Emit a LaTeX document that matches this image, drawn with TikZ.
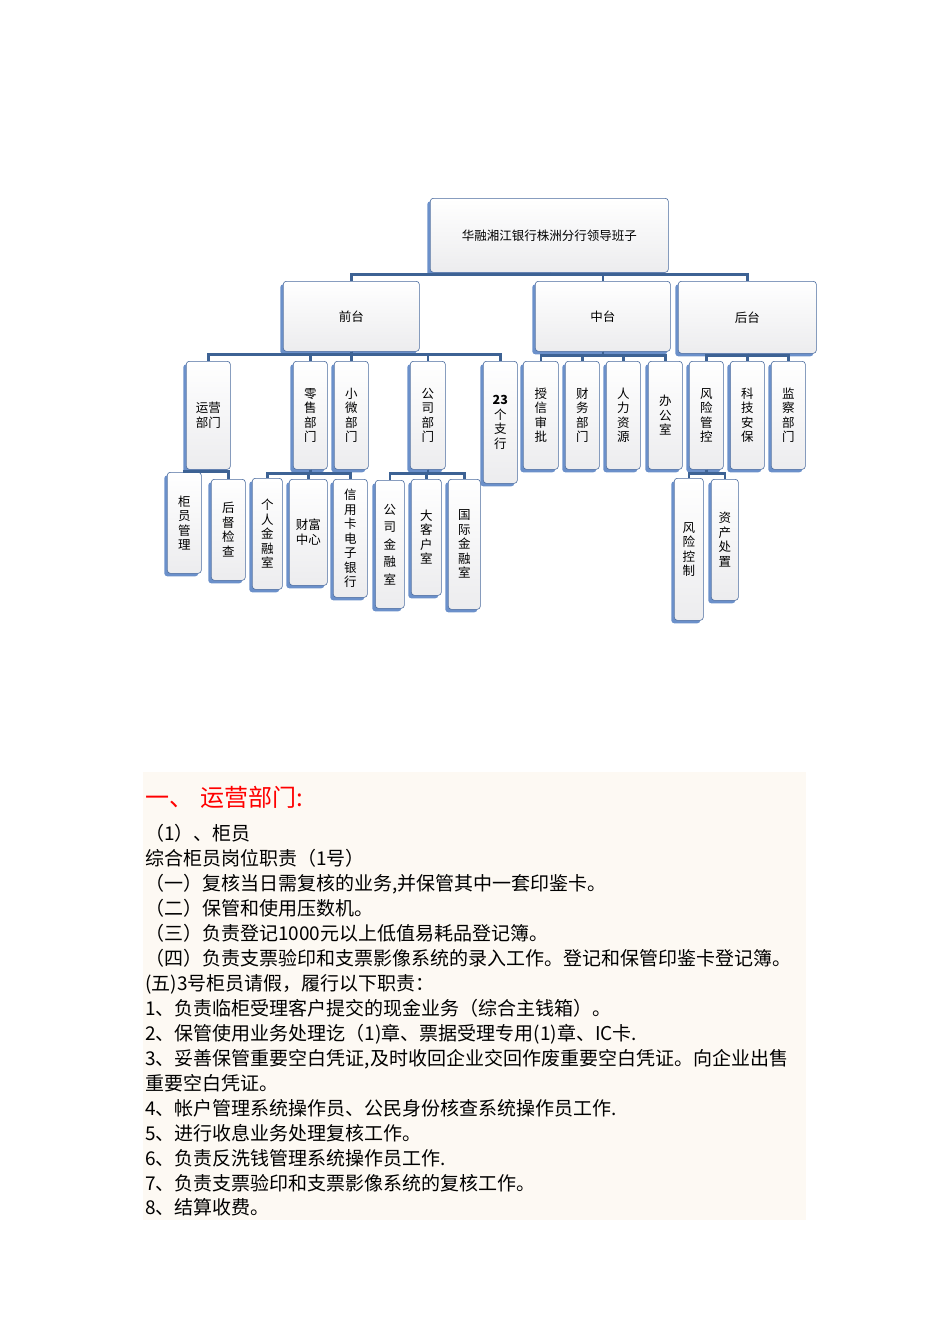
\documentclass[tikz,border=0pt]{standalone}
\usepackage{fontspec}
\setmainfont{Liberation Serif}
\newfontfamily\cjk{Noto Sans CJK SC}
\usetikzlibrary{shadows,calc}
\definecolor{boxblue}{HTML}{5B84C4}
\definecolor{connblue}{HTML}{3D6294}
\definecolor{paper}{HTML}{FDF9F3}
\tikzset{
  box/.style={draw=boxblue!80!black, line width=0.6pt, rounded corners=3pt, top color=white, bottom color=blue!6!gray!14,
    drop shadow={shadow xshift=-3pt, shadow yshift=-3pt, fill=boxblue, opacity=0.9},
    anchor=north west, inner sep=0pt, align=center, font=\cjk\fontsize{12.5}{14.5}\selectfont},
  conn/.style={draw=connblue, line width=2.4pt},
  bodyline/.style={anchor=base west, inner sep=0pt, font=\cjk\fontsize{19}{20}\selectfont}
}
\newcommand{\bx}[6]{\node[box, minimum width=#4pt-#2pt, minimum height=#3pt-#5pt] (#1) at (#2pt,#3pt) {#6};}
\begin{document}
\begin{tikzpicture}[x=1pt,y=1pt]
\useasboundingbox (0,0) rectangle (950,-1344);
% boxes
\bx{top}{430}{-198}{668}{-272}{华融湘江银行株洲分行领导班子}
\bx{qian}{283}{-281}{419}{-351}{前台}
\bx{zhong}{535}{-281}{670}{-351}{中台}
\bx{hou}{678}{-281}{816}{-353}{后台}
\bx{yy}{186}{-361}{230}{-469}{运营\\部门}
\bx{ls}{293}{-361}{327}{-469}{零\\售\\部\\门}
\bx{xw}{334}{-361}{368}{-469}{小\\微\\部\\门}
\bx{gs}{410}{-361}{445}{-469}{公\\司\\部\\门}
\bx{zh}{483}{-361}{517}{-483}{\textbf{23}\\个\\支\\行}
\bx{sx}{523}{-361}{558}{-469}{授\\信\\审\\批}
\bx{cw}{565}{-361}{599}{-469}{财\\务\\部\\门}
\bx{rl}{606}{-361}{640}{-469}{人\\力\\资\\源}
\bx{bg}{648}{-361}{682}{-469}{办\\公\\室}
\bx{fxg}{689}{-361}{723}{-469}{风\\险\\管\\控}
\bx{kj}{730}{-361}{764}{-469}{科\\技\\安\\保}
\bx{jc}{771}{-361}{805}{-469}{监\\察\\部\\门}
\bx{gy}{167}{-472}{201}{-573}{柜\\员\\管\\理}
\bx{hd}{211}{-479}{245}{-580}{后\\督\\检\\查}
\bx{gr}{252}{-478}{282}{-589}{个\\人\\金\\融\\室}
\bx{cf}{289}{-479}{327}{-585}{财富\\中心}
\bx{xyk}{333}{-479}{367}{-597}{信\\用\\卡\\电\\子\\银\\行}
\bx{gsj}{375}{-480}{404}{-608}{公\\[3pt]司\\[3pt]金\\[3pt]融\\[3pt]室}
\bx{dk}{411}{-479}{441}{-595}{大\\客\\户\\室}
\bx{gj}{448}{-479}{480}{-609}{国\\际\\金\\融\\室}
\bx{fxk}{674}{-478}{703}{-620}{风\\险\\控\\制}
\bx{zc}{711}{-479}{738}{-600}{资\\产\\处\\置}
% connectors
\foreach \c in {qian,zhong,hou}{\draw[conn] (top.south) -- ++(0,-2) -| (\c.north);}
\foreach \c in {yy,ls,xw,gs,zh}{\draw[conn] (qian.south) -- ++(0,-3) -| (\c.north);}
\foreach \c in {sx,cw,rl,bg}{\draw[conn] (zhong.south) -- ++(0,-4) -| (\c.north);}
\foreach \c in {fxg,kj,jc}{\draw[conn] (hou.south) -- ++(0,-2) -| (\c.north);}
\foreach \c in {gy,hd}{\draw[conn] (yy.south) -- ++(0,-2) -| (\c.north);}
\foreach \c in {gr,cf,xyk}{\draw[conn] (ls.south) -- ++(0,-4) -| (\c.north);}
\foreach \c in {gsj,dk,gj}{\draw[conn] (gs.south) -- ++(0,-4) -| (\c.north);}
\foreach \c in {fxk,zc}{\draw[conn] (fxg.south) -- ++(0,-4) -| (\c.north);}
% text block
\fill[paper] (143,-772) rectangle (806,-1220);
\node[anchor=base west, inner sep=0pt, text=red, font=\cjk\fontsize{24}{26}\selectfont] (h) at (145,-806) {一、\hspace{0.3em}运营部门:};
\node[bodyline] (l1) at (145,-840) {（1）、柜员};
\node[bodyline] (l2) at (145,-865) {综合柜员岗位职责（1号）};
\node[bodyline] (l3) at (145,-890) {（一）复核当日需复核的业务,并保管其中一套印鉴卡。};
\node[bodyline] (l4) at (145,-915) {（二）保管和使用压数机。};
\node[bodyline] (l5) at (145,-940) {（三）负责登记1000元以上低值易耗品登记簿。};
\node[bodyline] (l6) at (145,-965) {（四）负责支票验印和支票影像系统的录入工作。登记和保管印鉴卡登记簿。};
\node[bodyline] (l7) at (145,-990) {(五)3号柜员请假，履行以下职责：};
\node[bodyline] (l8) at (145,-1015) {1、负责临柜受理客户提交的现金业务（综合主钱箱）。};
\node[bodyline] (l9) at (145,-1040) {2、保管使用业务处理讫（1)章、票据受理专用(1)章、IC卡.};
\node[bodyline] (l10) at (145,-1065) {3、妥善保管重要空白凭证,及时收回企业交回作废重要空白凭证。向企业出售};
\node[bodyline] (l11) at (145,-1090) {重要空白凭证。};
\node[bodyline] (l12) at (145,-1115) {4、帐户管理系统操作员、公民身份核查系统操作员工作.};
\node[bodyline] (l13) at (145,-1140) {5、进行收息业务处理复核工作。};
\node[bodyline] (l14) at (145,-1165) {6、负责反洗钱管理系统操作员工作.};
\node[bodyline] (l15) at (145,-1190) {7、负责支票验印和支票影像系统的复核工作。};
\node[bodyline] (l16) at (145,-1214) {8、结算收费。};
\end{tikzpicture}
\end{document}
